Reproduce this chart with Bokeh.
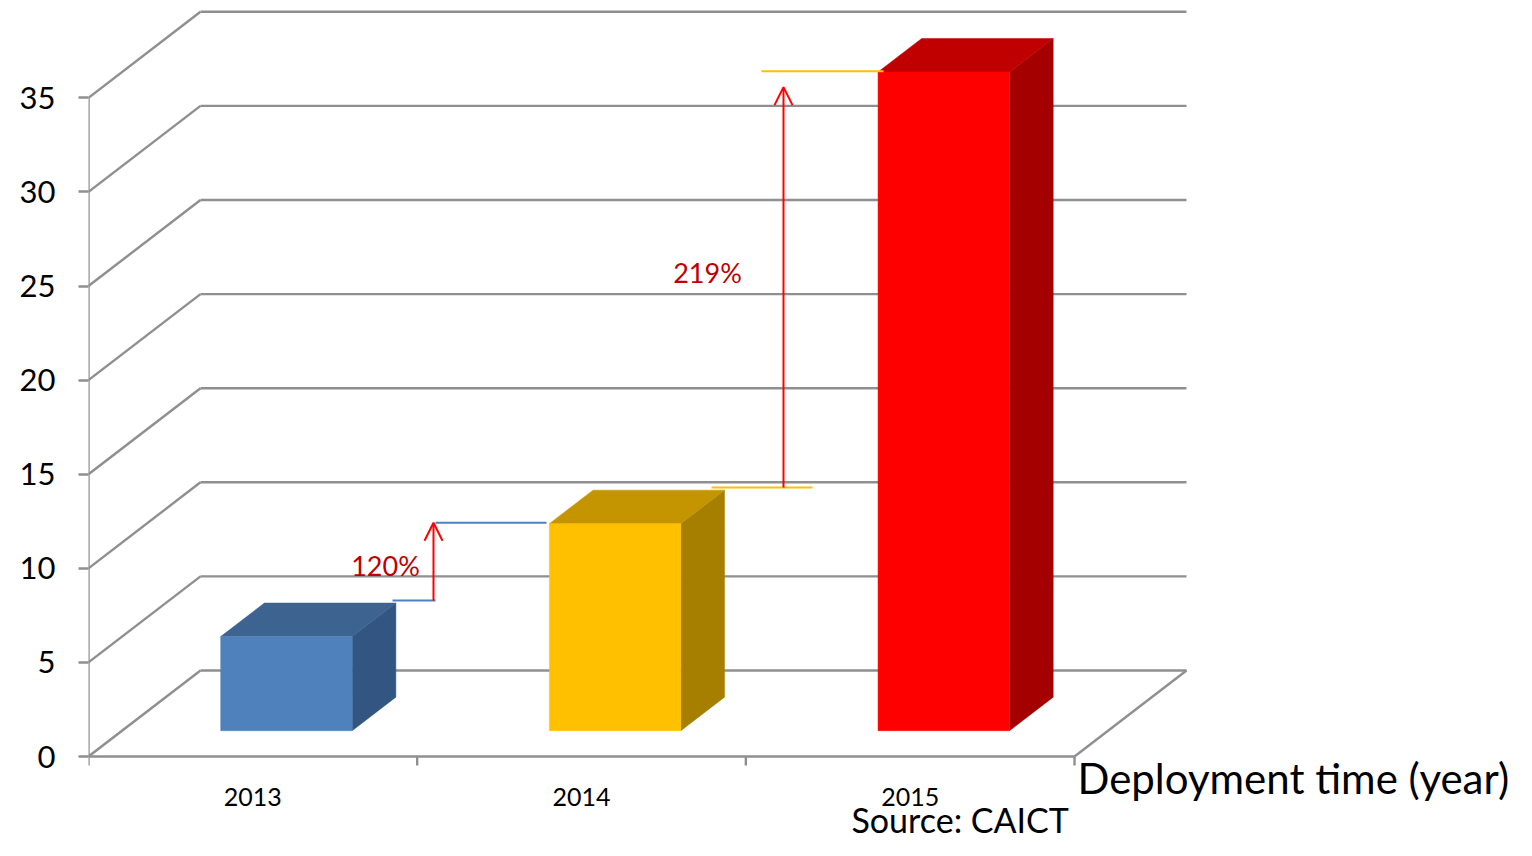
from bokeh.plotting import figure
from bokeh.models import Range1d, FixedTicker, Arrow, OpenHead
from bokeh.core.properties import value
from bokeh.embed import file_html
from bokeh.resources import INLINE

# ---------------- data ----------------
years = ["2013", "2014", "2015"]
deployments = [5, 11, 35]
growth_labels = ["120%", "219%"]
y_ticks = [0, 5, 10, 15, 20, 25, 30, 35]
x_title = "Deployment time (year)"
source_note = "Source: CAICT"

# ---------------- styles / layout ----------------
FONT = "Lato"
W, H = 1516, 840
LEFT = 88                 # frame left border (px)
PX_PER_CAT = 328.67       # px per category slot
PX_PER_UNIT = 18.82       # px per value unit
ZERO_Y = 756              # px from top where value 0 sits (front)
DX = 112 / PX_PER_CAT     # full depth shift in category units
DY = 86 / PX_PER_UNIT     # full depth shift in value units
BAR_W = 0.4
F_FRONT, F_BACK = 0.30, 0.69
GRID = "#8f8f8f"
GRID_W = 2.4

front_colors = ["#4F81BD", "#FFC000", "#FF0000"]
top_colors = ["#3D6391", "#C49500", "#C00000"]
side_colors = ["#325581", "#A67E00", "#A50000"]


def text_y(baseline_px, size):
    """value-space y for a text whose visible baseline should sit at baseline_px"""
    return (ZERO_Y - (baseline_px - 0.38 * size)) / PX_PER_UNIT


def px_x(px):
    return (px - LEFT) / PX_PER_CAT


p = figure(width=W, height=H, output_backend="svg", toolbar_location=None,
           x_range=Range1d(0, (W - LEFT) / PX_PER_CAT),
           y_range=Range1d(-(H - ZERO_Y) / PX_PER_UNIT, ZERO_Y / PX_PER_UNIT),
           min_border_left=LEFT, min_border_right=0, min_border_top=0,
           min_border_bottom=0, x_axis_location=None)
p.grid.visible = False
p.outline_line_color = None
p.background_fill_color = "white"
p.border_fill_color = "white"

ax = p.yaxis[0]
ax.ticker = FixedTicker(ticks=y_ticks)
ax.axis_line_color = None
ax.major_tick_line_color = GRID
ax.major_tick_line_width = GRID_W
ax.major_tick_out = 10
ax.major_tick_in = 0
ax.minor_tick_line_color = None
ax.major_label_text_font = FONT
ax.major_label_text_font_size = "31px"
ax.major_label_text_color = "#000000"
ax.major_label_standoff = 23

n = len(years)
top_val = max(y_ticks)

# back wall gridlines
p.segment(x0=[DX] * len(y_ticks), y0=[t + DY for t in y_ticks],
          x1=[n + DX] * len(y_ticks), y1=[t + DY for t in y_ticks],
          line_color=GRID, line_width=GRID_W)
# left wall diagonals
p.segment(x0=[0] * len(y_ticks), y0=y_ticks,
          x1=[DX] * len(y_ticks), y1=[t + DY for t in y_ticks],
          line_color=GRID, line_width=GRID_W)
# front vertical axis, floor front edge, floor right edge
p.segment(x0=[0, 0, n], y0=[0, 0, 0], x1=[0, n, n + DX], y1=[top_val, 0, DY],
          line_color=GRID, line_width=GRID_W)
# category ticks
tick_down = 9 / PX_PER_UNIT
p.segment(x0=list(range(n + 1)), y0=[0] * (n + 1), x1=list(range(n + 1)),
          y1=[-tick_down] * (n + 1), line_color=GRID, line_width=GRID_W)

# 3D bars
fx, bx = F_FRONT * DX, F_BACK * DX
fy, by = F_FRONT * DY, F_BACK * DY
fr_xs, fr_ys, tp_xs, tp_ys, sd_xs, sd_ys = [], [], [], [], [], []
for i, v in enumerate(deployments):
    x0 = i + 0.5 - BAR_W / 2
    x1 = i + 0.5 + BAR_W / 2
    fr_xs.append([x0 + fx, x1 + fx, x1 + fx, x0 + fx])
    fr_ys.append([fy, fy, v + fy, v + fy])
    tp_xs.append([x0 + fx, x1 + fx, x1 + bx, x0 + bx])
    tp_ys.append([v + fy, v + fy, v + by, v + by])
    sd_xs.append([x1 + fx, x1 + bx, x1 + bx, x1 + fx])
    sd_ys.append([fy, by, v + by, v + fy])
p.patches(xs=sd_xs, ys=sd_ys, fill_color=side_colors, line_color=side_colors, line_width=0.5)
p.patches(xs=tp_xs, ys=tp_ys, fill_color=top_colors, line_color=top_colors, line_width=0.5)
p.patches(xs=fr_xs, ys=fr_ys, fill_color=front_colors, line_color=front_colors, line_width=0.5)

# growth annotations
ann_lower_x = [(px_x(392), px_x(435)), (px_x(711), px_x(812))]
ann_upper_x = [(px_x(435), px_x(546)), (px_x(761), px_x(883))]
ann_arrow_x = [px_x(433), px_x(783)]
ann_arrow_gap = [0.0, 0.85]
ann_label_x = [px_x(385), px_x(707)]
ann_label_base = [575, 282]
ann_colors = ["#4F81BD", "#FFC000"]
F_LOW, F_HIGH = 0.72, 0.31
PCT_SIZE = 27
for k, lab in enumerate(growth_labels):
    low = deployments[k] + F_LOW * DY
    up = deployments[k + 1] + F_HIGH * DY
    p.segment(x0=[ann_lower_x[k][0], ann_upper_x[k][0]], y0=[low, up],
              x1=[ann_lower_x[k][1], ann_upper_x[k][1]], y1=[low, up],
              line_color=ann_colors[k], line_width=2)
    p.add_layout(Arrow(end=OpenHead(size=18, line_color="#FF0000", line_width=2),
                       x_start=ann_arrow_x[k], y_start=low,
                       x_end=ann_arrow_x[k], y_end=up - ann_arrow_gap[k],
                       line_color="#FF0000", line_width=2))
    p.text(x=[ann_label_x[k]], y=[text_y(ann_label_base[k], PCT_SIZE)], text=[lab],
           text_align="center", text_baseline="alphabetic",
           text_font=value(FONT), text_font_size=f"{PCT_SIZE}px", text_color="#C00000")

# category labels
CAT_SIZE = 25
p.text(x=[i + 0.5 for i in range(n)], y=[text_y(806, CAT_SIZE)] * n, text=years,
       text_align="center", text_baseline="alphabetic",
       text_font=value(FONT), text_font_size=f"{CAT_SIZE}px", text_color="#000000")

# axis title and source
TITLE_SIZE = 42
p.text(x=[px_x(1077)], y=[text_y(793, TITLE_SIZE)], text=[x_title], text_align="left",
       text_baseline="alphabetic", text_font=value(FONT),
       text_font_size=f"{TITLE_SIZE}px", text_color="#000000")
SRC_SIZE = 34
p.text(x=[px_x(851)], y=[text_y(832, SRC_SIZE)], text=[source_note], text_align="left",
       text_baseline="alphabetic", text_font=value(FONT),
       text_font_size=f"{SRC_SIZE}px", text_color="#000000")

open("out.html", "w").write(file_html(p, INLINE, title="Deployments"))
